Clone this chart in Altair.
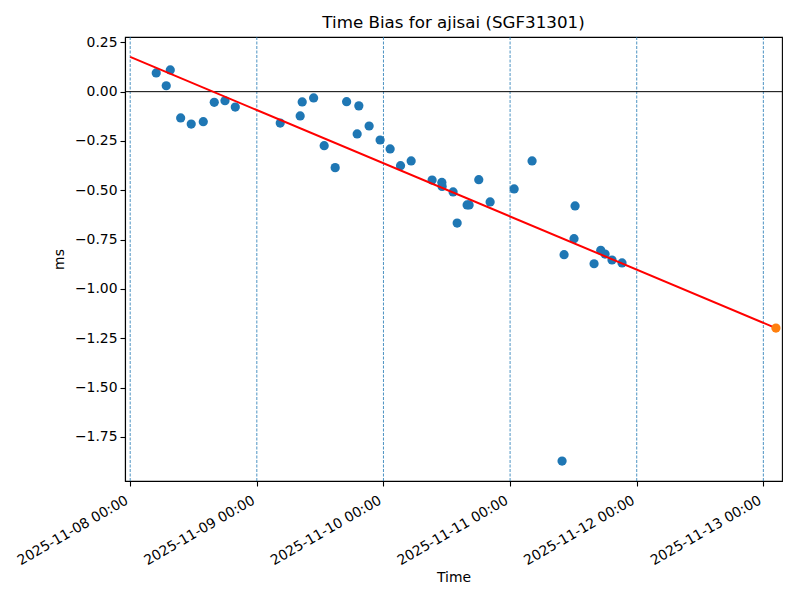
import altair as alt
import pandas as pd

# Observed time-bias samples (ms)
times = [
    "2025-11-08 04:56", "2025-11-08 06:50", "2025-11-08 07:36", "2025-11-08 09:34",
    "2025-11-08 11:34", "2025-11-08 13:51", "2025-11-08 15:56", "2025-11-08 17:58",
    "2025-11-08 19:55", "2025-11-09 04:26", "2025-11-09 08:13", "2025-11-09 08:36",
    "2025-11-09 10:46", "2025-11-09 12:46", "2025-11-09 14:51", "2025-11-09 17:01",
    "2025-11-09 19:01", "2025-11-09 19:20", "2025-11-09 21:17", "2025-11-09 23:22",
    "2025-11-10 01:16", "2025-11-10 03:14", "2025-11-10 05:15", "2025-11-10 09:13",
    "2025-11-10 11:04", "2025-11-10 11:07", "2025-11-10 13:12", "2025-11-10 13:58",
    "2025-11-10 15:51", "2025-11-10 16:14", "2025-11-10 18:04", "2025-11-10 20:13",
    "2025-11-11 00:46", "2025-11-11 04:10", "2025-11-11 09:51", "2025-11-11 10:14",
    "2025-11-11 12:07", "2025-11-11 12:19", "2025-11-11 15:55", "2025-11-11 17:11",
    "2025-11-11 18:00", "2025-11-11 19:19", "2025-11-11 21:13",
]
bias = [
    0.095, 0.030, 0.110, -0.133,
    -0.164, -0.152, -0.054, -0.046,
    -0.078, -0.159, -0.123, -0.052,
    -0.032, -0.274, -0.385, -0.051,
    -0.214, -0.072, -0.174, -0.245,
    -0.290, -0.375, -0.351, -0.448,
    -0.460, -0.480, -0.508, -0.666,
    -0.574, -0.574, -0.446, -0.559,
    -0.493, -0.351, -1.872, -0.826,
    -0.745, -0.579, -0.872, -0.804,
    -0.823, -0.853, -0.868,
]

# Linear fit line and predicted point
fit_times = ["2025-11-08 00:00", "2025-11-13 02:23"]
fit_values = [0.176, -1.198]
pred_times = ["2025-11-13 02:23"]
pred_values = [-1.198]

# Day markers / tick labels
days = ["2025-11-08 00:00", "2025-11-09 00:00", "2025-11-10 00:00",
        "2025-11-11 00:00", "2025-11-12 00:00", "2025-11-13 00:00"]
day_numbers = [8, 9, 10, 11, 12, 13]
y_ticks = [0.25, 0.0, -0.25, -0.5, -0.75, -1.0, -1.25, -1.5, -1.75]

obs = pd.DataFrame({"time": times, "bias": bias})
fit = pd.DataFrame({"time": fit_times, "bias": fit_values})
pred = pd.DataFrame({"time": pred_times, "bias": pred_values})
day_df = pd.DataFrame({"time": days})
zero_df = pd.DataFrame({"bias": [0.0]})

FONT = "DejaVu Sans"

x_scale = alt.Scale(domain=[
    alt.DateTime(year=2025, month=11, date=7, hours=23, minutes=1),
    alt.DateTime(year=2025, month=11, date=13, hours=3, minutes=32),
])
y_scale = alt.Scale(domain=[-1.973, 0.277], nice=False, zero=False)

x_axis = alt.Axis(
    title="Time", format="%Y-%m-%d %H:%M", labelAngle=-30, labelAlign="right",
    labelBaseline="top", values=[alt.DateTime(year=2025, month=11, date=d) for d in day_numbers],
    grid=False, tickSize=5, labelPadding=7, labelOffset=-7, titlePadding=3,
)
y_axis = alt.Axis(
    title="ms", format=".2f", values=y_ticks, grid=False, tickSize=5,
    labelPadding=3, titlePadding=8,
)

base_x = alt.X("time:T", scale=x_scale, axis=x_axis)
base_y = alt.Y("bias:Q", scale=y_scale, axis=y_axis)

vlines = alt.Chart(day_df).mark_rule(
    color="#1f77b4", strokeWidth=0.8, strokeDash=[3, 1.5]
).encode(x=alt.X("time:T", scale=x_scale, axis=x_axis))

hline = alt.Chart(zero_df).mark_rule(color="black", strokeWidth=1).encode(
    y=alt.Y("bias:Q", scale=y_scale, axis=y_axis)
)

line = alt.Chart(fit).mark_line(color="#ff0000", strokeWidth=2).encode(x=base_x, y=base_y)

points = alt.Chart(obs).mark_circle(color="#1f77b4", opacity=1, size=85).encode(x=base_x, y=base_y)

pred_pt = alt.Chart(pred).mark_circle(color="#ff7f0e", opacity=1, size=85).encode(x=base_x, y=base_y)

chart = alt.layer(vlines, hline, points, line, pred_pt).properties(
    width=657, height=444,
    title=alt.TitleParams("Time Bias for ajisai (SGF31301)", fontSize=16.7,
                          font=FONT, fontWeight="normal", color="black", offset=4),
    autosize=alt.AutoSizeParams(type="none"),
    padding={"left": 117, "top": 29, "right": 10, "bottom": 111},
).configure_axis(
    labelFont=FONT, titleFont=FONT, labelFontSize=13.9, titleFontSize=13.9,
    labelColor="black", titleColor="black", domainColor="black", tickColor="black",
    titleFontWeight="normal", domainWidth=1.1, tickWidth=1.1,
).configure_view(stroke="black", strokeWidth=1.1)

chart.save("out.html", embed_options={"renderer": "svg", "actions": False})
